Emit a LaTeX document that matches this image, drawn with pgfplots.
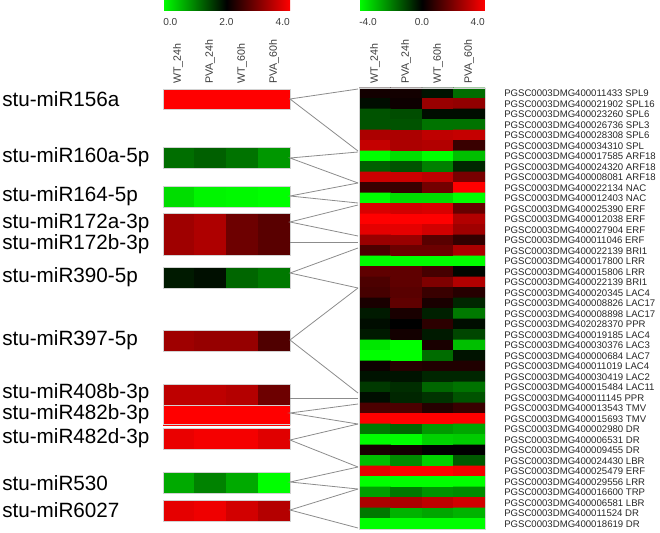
\documentclass[border=0pt]{standalone}
\usepackage{pgfplots}
\usepackage{fontspec}
\setmainfont{Liberation Sans}
\pgfplotsset{compat=1.18}
\pgfplotsset{
  hm/.style={matrix plot*, mesh/cols=4, point meta=explicit},
}
\definecolor{lnk}{RGB}{140,140,140}
\definecolor{lbl}{RGB}{60,60,60}
\newcommand\gl[2]{\node[anchor=west,inner sep=0pt,text=black!85,font=\fontsize{7.2}{8}\selectfont] at (axis cs:504,{88+10.5*(#1-0.5)}) {#2};}
\newcommand\ml[2]{\node[anchor=west,inner sep=0pt,font=\fontsize{15.5}{16}\selectfont] at (axis cs:2,#1) {#2};}
\begin{document}
\begin{tikzpicture}
% ---------------- left heatmap (miRNA) ----------------
\begin{axis}[at={(122.25pt,0pt)}, anchor=south west, width=95.25pt, height=399pt, scale only axis,
  xmin=-0.5, xmax=3.5, ymin=0, ymax=532, y dir=reverse, hide axis,
  colormap={gbr}{rgb255=(0,255,0) rgb255=(0,0,0) rgb255=(255,0,0)},
  point meta min=0, point meta max=4,
  colorbar horizontal,
  colorbar style={at={(0,1)}, anchor=north west, yshift=-1.1pt, width=95.25pt, height=7.9pt,
    scale only axis, xtick=\empty, ytick=\empty, axis line style={draw=none}}]
\addplot[hm] table[row sep=\\, meta=c] {x y c\\ 0 94 4\\ 1 94 4\\ 2 94 4\\ 3 94 4\\ 0 104 4\\ 1 104 4\\ 2 104 4\\ 3 104 4\\};
\addplot[hm] table[row sep=\\, meta=c] {x y c\\ 0 152.25 1.14\\ 1 152.25 1.25\\ 2 152.25 1.1\\ 3 152.25 0.82\\ 0 162.75 1.14\\ 1 162.75 1.25\\ 2 162.75 1.1\\ 3 162.75 0.82\\};
\addplot[hm] table[row sep=\\, meta=c] {x y c\\ 0 191.25 0.27\\ 1 191.25 0.08\\ 2 191.25 0.05\\ 3 191.25 0.0\\ 0 201.75 0.27\\ 1 201.75 0.08\\ 2 201.75 0.05\\ 3 201.75 0.0\\};
\addplot[hm] table[row sep=\\, meta=c] {x y c\\ 0 223.5 3.25\\ 1 223.5 3.37\\ 2 223.5 2.86\\ 3 223.5 2.7\\ 0 244.5 3.25\\ 1 244.5 3.37\\ 2 244.5 2.86\\ 3 244.5 2.7\\};
\addplot[hm] table[row sep=\\, meta=c] {x y c\\ 0 272.25 1.8\\ 1 272.25 1.88\\ 2 272.25 1.2\\ 3 272.25 1.06\\ 0 282.75 1.8\\ 1 282.75 1.88\\ 2 282.75 1.2\\ 3 282.75 1.06\\};
\addplot[hm] table[row sep=\\, meta=c] {x y c\\ 0 335.25 3.25\\ 1 335.25 3.18\\ 2 335.25 3.18\\ 3 335.25 2.63\\ 0 345.75 3.25\\ 1 345.75 3.18\\ 2 345.75 3.18\\ 3 345.75 2.63\\};
\addplot[hm] table[row sep=\\, meta=c] {x y c\\ 0 389.25 3.49\\ 1 389.25 3.49\\ 2 389.25 3.41\\ 3 389.25 2.86\\ 0 399.75 3.49\\ 1 399.75 3.49\\ 2 399.75 3.41\\ 3 399.75 2.86\\};
\addplot[hm] table[row sep=\\, meta=c] {x y c\\ 0 410 4\\ 1 410 4\\ 2 410 4\\ 3 410 4\\ 0 420 4\\ 1 420 4\\ 2 420 4\\ 3 420 4\\};
\addplot[hm] table[row sep=\\, meta=c] {x y c\\ 0 433.25 3.84\\ 1 433.25 3.92\\ 2 433.25 3.92\\ 3 433.25 3.76\\ 0 443.75 3.84\\ 1 443.75 3.92\\ 2 443.75 3.92\\ 3 443.75 3.76\\};
\addplot[hm] table[row sep=\\, meta=c] {x y c\\ 0 477.25 0.67\\ 1 477.25 0.98\\ 2 477.25 0.67\\ 3 477.25 0.0\\ 0 487.75 0.67\\ 1 487.75 0.98\\ 2 487.75 0.67\\ 3 487.75 0.0\\};
\addplot[hm] table[row sep=\\, meta=c] {x y c\\ 0 505.25 3.8\\ 1 505.25 3.88\\ 2 505.25 3.65\\ 3 505.25 3.41\\ 0 515.75 3.8\\ 1 515.75 3.88\\ 2 515.75 3.65\\ 3 515.75 3.41\\};
\end{axis}
% ---------------- right heatmap (targets) ----------------
\begin{axis}[at={(269.25pt,0pt)}, anchor=south west, width=94.5pt, height=399pt, scale only axis,
  xmin=-0.5, xmax=3.5, ymin=-7.881, ymax=42.786, y dir=reverse, hide axis,
  colormap={gbr}{rgb255=(0,255,0) rgb255=(0,0,0) rgb255=(255,0,0)},
  point meta min=-4, point meta max=4,
  colorbar horizontal,
  colorbar style={at={(0,1)}, anchor=north west, yshift=-1.1pt, width=94.5pt, height=7.9pt,
    scale only axis, xtick=\empty, ytick=\empty, axis line style={draw=none}}]
\addplot[hm] table[row sep=\\, meta=c] {x r c\\
0 1 0.3\\ 1 1 0.3\\ 2 1 -0.3\\ 3 1 -1.7\\
0 2 -0.2\\ 1 2 0.2\\ 2 2 2.4\\ 3 2 2.3\\
0 3 -1.3\\ 1 3 -1.2\\ 2 3 -0.2\\ 3 3 -0.2\\
0 4 -1.3\\ 1 4 -1.3\\ 2 4 -1.8\\ 3 4 -1.8\\
0 5 2.7\\ 1 5 2.7\\ 2 5 3.0\\ 3 5 3.1\\
0 6 3.1\\ 1 6 2.7\\ 2 6 2.8\\ 3 6 0.9\\
0 7 -4\\ 1 7 -3.5\\ 2 7 -4\\ 3 7 -3.0\\
0 8 -1.5\\ 1 8 -1.3\\ 2 8 -2.0\\ 3 8 -0.6\\
0 9 3.2\\ 1 9 3.2\\ 2 9 3.0\\ 3 9 1.9\\
0 10 0.9\\ 1 10 0.9\\ 2 10 1.8\\ 3 10 4\\
0 11 -4\\ 1 11 -3.5\\ 2 11 -3.5\\ 3 11 -4\\
0 12 3.4\\ 1 12 3.3\\ 2 12 3.4\\ 3 12 1.6\\
0 13 4\\ 1 13 4\\ 2 13 4\\ 3 13 2.8\\
0 14 3.6\\ 1 14 3.6\\ 2 14 3.3\\ 3 14 2.5\\
0 15 2.4\\ 1 15 2.4\\ 2 15 1.4\\ 3 15 0.8\\
0 16 1.2\\ 1 16 1.7\\ 2 16 1.7\\ 3 16 2.7\\
0 17 -4\\ 1 17 -4\\ 2 17 -4\\ 3 17 -4\\
0 18 1.5\\ 1 18 1.5\\ 2 18 1.1\\ 3 18 -0.1\\
0 19 1.2\\ 1 19 1.5\\ 2 19 2.0\\ 3 19 2.8\\
0 20 1.1\\ 1 20 1.4\\ 2 20 0.9\\ 3 20 0.6\\
0 21 0.4\\ 1 21 1.5\\ 2 21 0.4\\ 3 21 -0.6\\
0 22 -0.4\\ 1 22 0.4\\ 2 22 -0.5\\ 3 22 -1.9\\
0 23 -0.2\\ 1 23 0\\ 2 23 0.7\\ 3 23 -0.2\\
0 24 -0.4\\ 1 24 0.3\\ 2 24 -0.4\\ 3 24 -1.1\\
0 25 -3.6\\ 1 25 -4\\ 2 25 0.4\\ 3 25 -3.0\\
0 26 -4\\ 1 26 -4\\ 2 26 -1.7\\ 3 26 -0.3\\
0 27 0.2\\ 1 27 0.6\\ 2 27 0.5\\ 3 27 0.5\\
0 28 -0.3\\ 1 28 -0.3\\ 2 28 -0.6\\ 3 28 -0.6\\
0 29 -0.9\\ 1 29 -0.7\\ 2 29 -1.6\\ 3 29 -1.8\\
0 30 -0.2\\ 1 30 -0.6\\ 2 30 -0.8\\ 3 30 -1.3\\
0 31 1.2\\ 1 31 1.2\\ 2 31 0.6\\ 3 31 0.9\\
0 32 4\\ 1 32 4\\ 2 32 4\\ 3 32 4\\
0 33 -1.9\\ 1 33 -1.6\\ 2 33 -2.4\\ 3 33 -2.6\\
0 34 -4\\ 1 34 -4\\ 2 34 -3.3\\ 3 34 -3.2\\
0 35 0.4\\ 1 35 0.3\\ 2 35 0\\ 3 35 0\\
0 36 -3.0\\ 1 36 -2.2\\ 2 36 -3.3\\ 3 36 -1.4\\
0 37 3.6\\ 1 37 4\\ 2 37 4\\ 3 37 3.8\\
0 38 -4\\ 1 38 -4\\ 2 38 -4\\ 3 38 -4\\
0 39 -2.5\\ 1 39 -1.9\\ 2 39 -2.3\\ 3 39 -2.2\\
0 40 2.7\\ 1 40 2.7\\ 2 40 3.0\\ 3 40 3.3\\
0 41 -1.9\\ 1 41 -2.8\\ 2 41 -2.6\\ 3 41 -2.8\\
0 42 -4\\ 1 42 -4\\ 2 42 -4\\ 3 42 -4\\
};
\end{axis}
% ---------------- frame: texts and connectors ----------------
\begin{axis}[name=frame, at={(0pt,0pt)}, anchor=south west, width=495pt, height=399pt, scale only axis,
  xmin=0, xmax=660, ymin=0, ymax=532, y dir=reverse, hide axis, clip=false]
% block borders
\foreach \a/\b in {89/109,147/168,186/207,213/255,267/288,330/351,384/405,405/424,428/449,472/493,500/521}{
  \edef\tmp{\noexpand\draw[gray!35,line width=0.5pt] (axis cs:163,\a) rectangle (axis cs:290,\b);}\tmp}
\draw[gray!35,line width=0.5pt] (axis cs:359,88) rectangle (axis cs:485,529);
% connectors
\addplot[lnk, line width=0.6pt, mark=none] coordinates {(358,89) (290,99) (358,151)};
\addplot[lnk, line width=0.6pt, mark=none] coordinates {(358,152) (290,158) (358,183)};
\addplot[lnk, line width=0.6pt, mark=none] coordinates {(358,183) (290,196) (358,203)};
\addplot[lnk, line width=0.6pt, mark=none] coordinates {(358,205) (290,222) (358,236)};
\addplot[lnk, line width=0.6pt, mark=none] coordinates {(290,242) (358,242)};
\addplot[lnk, line width=0.6pt, mark=none] coordinates {(358,248) (290,273) (358,288)};
\addplot[lnk, line width=0.6pt, mark=none] coordinates {(358,288) (290,340) (358,393)};
\addplot[lnk, line width=0.6pt, mark=none] coordinates {(290,398) (358,398)};
\addplot[lnk, line width=0.6pt, mark=none] coordinates {(358,404) (290,413) (358,424)};
\addplot[lnk, line width=0.6pt, mark=none] coordinates {(358,424) (290,440) (358,467)};
\addplot[lnk, line width=0.6pt, mark=none] coordinates {(358,467) (290,482) (358,489)};
\addplot[lnk, line width=0.6pt, mark=none] coordinates {(358,489) (290,510) (358,528)};
% colorbar tick labels
\begin{scope}[every node/.style={inner sep=0pt, text=lbl, font=\fontsize{7.6}{9}\selectfont}]
\node[anchor=west] at (axis cs:163,22.5) {0.0};
\node at (axis cs:226.5,22.5) {2.0};
\node[anchor=east] at (axis cs:290,22.5) {4.0};
\node[anchor=west] at (axis cs:359,22.5) {-4.0};
\node at (axis cs:422,22.5) {0.0};
\node[anchor=east] at (axis cs:485,22.5) {4.0};
\end{scope}
% column labels
\begin{scope}[every node/.style={inner sep=0pt, anchor=west, rotate=90, text=lbl, font=\fontsize{8}{9}\selectfont}]
\node at (axis cs:178,84) {WT\_24h};
\node at (axis cs:210,84) {PVA\_24h};
\node at (axis cs:242,84) {WT\_60h};
\node at (axis cs:274,84) {PVA\_60h};
\node at (axis cs:375,84) {WT\_24h};
\node at (axis cs:406,84) {PVA\_24h};
\node at (axis cs:438,84) {WT\_60h};
\node at (axis cs:469,84) {PVA\_60h};
\end{scope}
% miRNA labels
\ml{99}{stu-miR156a}
\ml{157.5}{stu-miR160a-5p}
\ml{196.5}{stu-miR164-5p}
\ml{223.5}{stu-miR172a-3p}
\ml{244.5}{stu-miR172b-3p}
\ml{277.5}{stu-miR390-5p}
\ml{340.5}{stu-miR397-5p}
\ml{393}{stu-miR408b-3p}
\ml{414.5}{stu-miR482b-3p}
\ml{438.5}{stu-miR482d-3p}
\ml{483}{stu-miR530}
\ml{510.5}{stu-miR6027}
% gene labels
\gl{1}{PGSC0003DMG400011433 SPL9}
\gl{2}{PGSC0003DMG400021902 SPL16}
\gl{3}{PGSC0003DMG400023260 SPL6}
\gl{4}{PGSC0003DMG400026736 SPL3}
\gl{5}{PGSC0003DMG400028308 SPL6}
\gl{6}{PGSC0003DMG400034310 SPL}
\gl{7}{PGSC0003DMG400017585 ARF18}
\gl{8}{PGSC0003DMG400024320 ARF18}
\gl{9}{PGSC0003DMG400008081 ARF18}
\gl{10}{PGSC0003DMG400022134 NAC}
\gl{11}{PGSC0003DMG400012403 NAC}
\gl{12}{PGSC0003DMG400025390 ERF}
\gl{13}{PGSC0003DMG400012038 ERF}
\gl{14}{PGSC0003DMG400027904 ERF}
\gl{15}{PGSC0003DMG400011046 ERF}
\gl{16}{PGSC0003DMG400022139 BRI1}
\gl{17}{PGSC0003DMG400017800 LRR}
\gl{18}{PGSC0003DMG400015806 LRR}
\gl{19}{PGSC0003DMG400022139 BRI1}
\gl{20}{PGSC0003DMG400020345 LAC4}
\gl{21}{PGSC0003DMG400008826 LAC17}
\gl{22}{PGSC0003DMG400008898 LAC17}
\gl{23}{PGSC0003DMG402028370 PPR}
\gl{24}{PGSC0003DMG400019185 LAC4}
\gl{25}{PGSC0003DMG400030376 LAC3}
\gl{26}{PGSC0003DMG400000684 LAC7}
\gl{27}{PGSC0003DMG400011019 LAC4}
\gl{28}{PGSC0003DMG400030419 LAC2}
\gl{29}{PGSC0003DMG400015484 LAC11}
\gl{30}{PGSC0003DMG400011145 PPR}
\gl{31}{PGSC0003DMG400013543 TMV}
\gl{32}{PGSC0003DMG400015693 TMV}
\gl{33}{PGSC0003DMG400002980 DR}
\gl{34}{PGSC0003DMG400006531 DR}
\gl{35}{PGSC0003DMG400009455 DR}
\gl{36}{PGSC0003DMG400024430 LBR}
\gl{37}{PGSC0003DMG400025479 ERF}
\gl{38}{PGSC0003DMG400029556 LRR}
\gl{39}{PGSC0003DMG400016600 TRP}
\gl{40}{PGSC0003DMG400006581 LBR}
\gl{41}{PGSC0003DMG400011524 DR}
\gl{42}{PGSC0003DMG400018619 DR}
\end{axis}
\pgfresetboundingbox
\path[use as bounding box] (0pt,0pt) rectangle (495pt,399pt);
\end{tikzpicture}
\end{document}
